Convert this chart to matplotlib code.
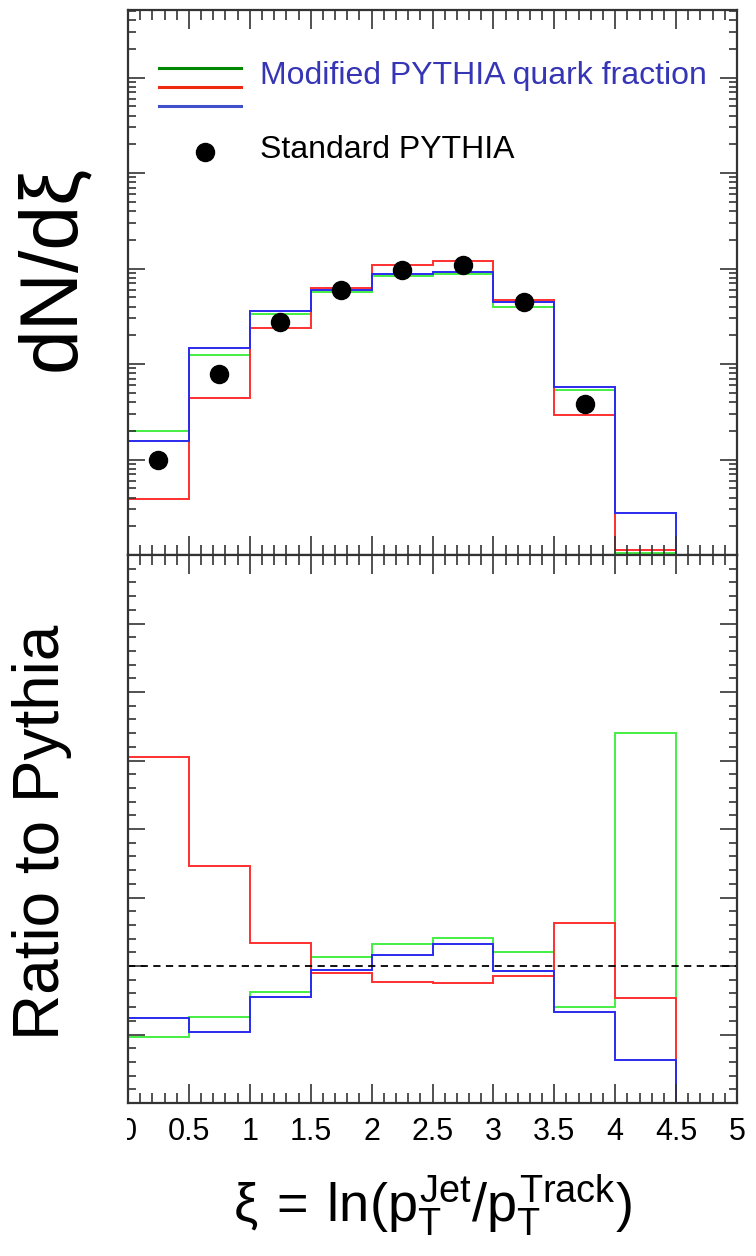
import matplotlib
matplotlib.use("Agg")
import matplotlib.pyplot as plt
from matplotlib import font_manager
from matplotlib.lines import Line2D
from matplotlib.transforms import Bbox
from matplotlib.ticker import MultipleLocator, LogLocator, NullFormatter
import numpy as np

# ---------------------------------------------------------------------------
# data
# ---------------------------------------------------------------------------
xi_edges = [0.0, 0.5, 1.0, 1.5, 2.0, 2.5, 3.0, 3.5, 4.0, 4.5, 5.0]

# dN/dxi, arbitrary log units
top_green = [1.98, 12.4, 33.6, 56.5, 83.0, 88.7, 39.7, 5.41, 0.104, 0.0]
top_red = [0.39, 4.43, 23.7, 61.8, 110.0, 121.0, 46.5, 2.91, 0.112, 0.0]
top_blue = [1.56, 14.8, 35.5, 60.3, 88.7, 91.5, 44.8, 5.77, 0.277, 0.0]

std_x = [0.25, 0.75, 1.25, 1.75, 2.25, 2.75, 3.25, 3.75]
std_y = [0.98, 7.77, 27.4, 59.3, 96.0, 108.0, 44.4, 3.77]

# ratio to standard pythia
ratio_green = [0.484, 0.626, 0.808, 1.066, 1.158, 1.202, 1.105, 0.703, 2.703, 0.0]
ratio_red = [2.528, 1.732, 1.166, 0.947, 0.881, 0.874, 0.927, 1.312, 0.769, 0.0]
ratio_blue = [0.618, 0.521, 0.772, 0.971, 1.080, 1.158, 0.966, 0.662, 0.314, 0.0]

xtick_vals = [0, 0.5, 1, 1.5, 2, 2.5, 3, 3.5, 4, 4.5, 5]
xtick_labels = ["0", "0.5", "1", "1.5", "2", "2.5", "3", "3.5", "4", "4.5", "5"]

# ---------------------------------------------------------------------------
# style
# ---------------------------------------------------------------------------
installed = {f.name for f in font_manager.fontManager.ttflist}
plt.rcParams["font.family"] = ["Liberation Sans", "DejaVu Sans"]
plt.rcParams["mathtext.fontset"] = "custom"
plt.rcParams["mathtext.rm"] = "Liberation Sans"
plt.rcParams["mathtext.it"] = "Liberation Sans"
plt.rcParams["mathtext.bf"] = "Liberation Sans:bold"

C_GREEN, C_RED, C_BLUE = "#44ee44", "#ff3030", "#2a2aee"
SPINE = "#333333"

W, H = 756, 1256
fig = plt.figure(figsize=(W / 100, H / 100), dpi=100)


def px_box(x0, y0, x1, y1):
    return [x0 / W, 1 - y1 / H, (x1 - x0) / W, (y1 - y0) / H]


ax_top = fig.add_axes(px_box(128, 10, 737, 555))
ax_rat = fig.add_axes(px_box(128, 555, 737, 1103))


def frame(ax):
    for sp in ax.spines.values():
        sp.set_color(SPINE)
        sp.set_linewidth(1.6)
    ax.tick_params(which="both", direction="in", top=True, right=True,
                   color=SPINE, width=1.2)
    ax.tick_params(axis="x", which="major", length=14)
    ax.tick_params(axis="x", which="minor", length=7)
    ax.tick_params(axis="y", which="major", length=12)
    ax.tick_params(axis="y", which="minor", length=6)
    ax.xaxis.set_major_locator(MultipleLocator(0.5))
    ax.xaxis.set_minor_locator(MultipleLocator(0.1))
    ax.set_xlim(0, 5)


# ---------------------------------------------------------------------------
# upper panel: dN/dxi
# ---------------------------------------------------------------------------
frame(ax_top)
ax_top.set_yscale("log")
ax_top.set_ylim(0.1, 5.1e4)
ax_top.yaxis.set_major_locator(LogLocator(base=10))
ax_top.yaxis.set_minor_locator(LogLocator(base=10, subs=np.arange(2, 10)))
ax_top.yaxis.set_major_formatter(NullFormatter())
ax_top.yaxis.set_minor_formatter(NullFormatter())
ax_top.xaxis.set_major_formatter(NullFormatter())

for vals, col in [(top_green, C_GREEN), (top_red, C_RED), (top_blue, C_BLUE)]:
    v = np.where(np.asarray(vals) > 0, vals, 1e-6)
    ax_top.stairs(v, xi_edges, baseline=None, color=col, lw=1.4)
ax_top.plot(std_x, std_y, "o", color="black", ms=13, zorder=5)

fig.text(53 / W, 1 - 268 / H, "dN/d\u03be", rotation=90, fontsize=58,
         ha="center", va="center")

# legend drawn by hand
leg_cols = ["#008800", "#ee2a10", "#4050c8"]
for y, col in zip([68, 87, 106], leg_cols):
    fig.add_artist(Line2D([159 / W, 241 / W], [1 - y / H, 1 - y / H],
                          color=col, lw=2.2, transform=fig.transFigure))
fig.add_artist(Line2D([205 / W], [1 - 152 / H], marker="o", ms=13,
                      color="black", ls="none", transform=fig.transFigure))
fig.text(260 / W, 1 - 76 / H, "Modified PYTHIA quark fraction",
         fontsize=23, color="#3535b5", ha="left", va="center")
fig.text(260 / W, 1 - 150 / H, "Standard PYTHIA",
         fontsize=23, color="black", ha="left", va="center")

# ---------------------------------------------------------------------------
# lower panel: ratio
# ---------------------------------------------------------------------------
frame(ax_rat)
ax_rat.set_ylim(0, 4)
ax_rat.yaxis.set_major_locator(MultipleLocator(0.5))
ax_rat.yaxis.set_minor_locator(MultipleLocator(0.1))
ax_rat.yaxis.set_major_formatter(NullFormatter())
ax_rat.set_xticks(xtick_vals, xtick_labels)
ax_rat.tick_params(axis="x", which="major", labelsize=22, pad=10)

# the reference picture has the "0" label half cut away at the left
zero_lbl = ax_rat.get_xticklabels()[0]
zero_lbl.set_clip_on(True)
zero_lbl.set_clip_box(Bbox.from_extents(127, 0, W, H))

for vals, col in [(ratio_green, C_GREEN), (ratio_red, C_RED), (ratio_blue, C_BLUE)]:
    ax_rat.stairs(vals, xi_edges, baseline=None, color=col, lw=1.4)
ax_rat.axhline(1.0, color="black", ls=(0, (4, 3)), lw=1.3)

if "Liberation Sans Narrow" in installed:
    rat_font = dict(family=["Liberation Sans Narrow", "Liberation Sans"], fontsize=53)
else:
    rat_font = dict(fontsize=46)
fig.text(42 / W, 1 - 832 / H, "Ratio to Pythia", rotation=90,
         ha="center", va="center", **rat_font)

fig.text(432 / W, 1 - 1206 / H,
         r"$\xi\:=\:\mathrm{ln}(p_{T}^{Jet}/p_{T}^{Track})$",
         fontsize=39, ha="center", va="center")

fig.savefig("out.png", dpi=100)
